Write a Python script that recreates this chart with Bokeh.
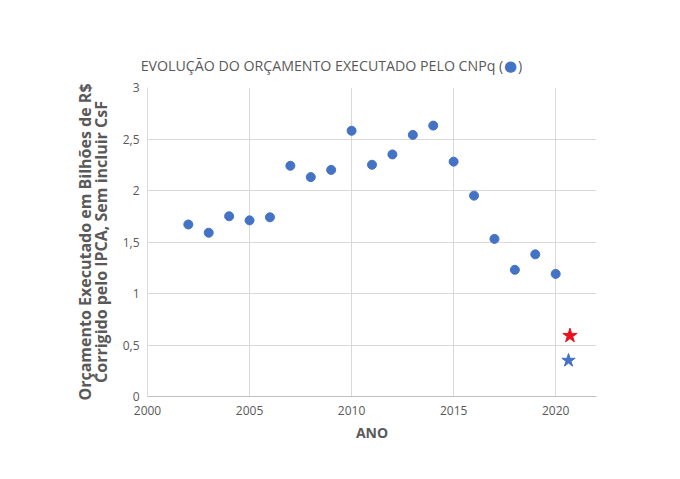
from bokeh.plotting import figure
from bokeh.models import FixedTicker, Range1d, LinearAxis
from bokeh.embed import file_html
from bokeh.resources import INLINE

# ---- data ----
years = [2002, 2003, 2004, 2005, 2006, 2007, 2008, 2009, 2010, 2011,
         2012, 2013, 2014, 2015, 2016, 2017, 2018, 2019, 2020]
values = [1.67, 1.59, 1.75, 1.71, 1.74, 2.24, 2.13, 2.20, 2.58, 2.25,
          2.35, 2.54, 2.63, 2.28, 1.95, 1.53, 1.23, 1.38, 1.19]
star_red_x = [2020.7]
star_red_y = [0.59]
star_blue_x = [2020.63]
star_blue_y = [0.35]
x_ticks = [2000, 2005, 2010, 2015, 2020]
y_ticks = [0, 0.5, 1, 1.5, 2, 2.5, 3]
y_tick_labels = ["0", "0,5", "1", "1,5", "2", "2,5", "3"]
title_text = "EVOLUÇÃO DO ORÇAMENTO EXECUTADO PELO CNPq (\u00a0\u00a0\u00a0\u00a0)"
title_pad = "\u00a0" * 22          # shifts the centred title to the left like the original
title_dot = "●"
title_dot_x = 2017.79
x_label = "ANO"
y_label_line1 = "Orçamento Executado em Bilhões de R$"
y_label_line2 = "Corrigido pelo IPCA, Sem incluir CsF"

BLUE = "#4472C4"
RED = "#E8101E"
TXT = "#595959"
GRID = "#D9D9D9"
FONT = "Open Sans"

p = figure(width=664, height=463, output_backend="svg", toolbar_location=None,
           x_range=Range1d(2000, 2022), y_range=Range1d(0, 3),
           min_border_left=147, min_border_right=68,
           min_border_top=87, min_border_bottom=67)
p.outline_line_color = None
p.background_fill_color = "white"
p.border_fill_color = "white"
p.title.text = ""
p.title.standoff = 0

xax = p.xaxis[0]
yax = p.yaxis[0]
xax.ticker = FixedTicker(ticks=x_ticks)
yax.ticker = FixedTicker(ticks=y_ticks)
yax.major_label_overrides = {t: l for t, l in zip(y_ticks, y_tick_labels)}
for ax in (xax, yax):
    ax.major_tick_line_color = None
    ax.minor_tick_line_color = None
    ax.major_tick_out = 0
    ax.major_tick_in = 0
    ax.minor_tick_out = 0
    ax.major_label_text_color = TXT
    ax.major_label_text_font = FONT
    ax.major_label_text_font_size = "12px"
    ax.axis_label_text_color = TXT
    ax.axis_label_text_font = FONT
    ax.axis_label_text_font_style = "bold"
xax.axis_line_color = "#BFBFBF"
yax.axis_line_color = GRID
xax.major_label_standoff = 9
yax.major_label_standoff = 8

xax.axis_label = x_label
xax.axis_label_text_font_size = "14px"
xax.axis_label_standoff = 5

yax.axis_label = y_label_line2
yax.axis_label_text_font_size = "16px"
yax.axis_label_standoff = 8

# outer left axis carrying the first line of the y label
yax2 = LinearAxis(ticker=FixedTicker(ticks=[]), axis_line_color=None,
                  major_tick_line_color=None, minor_tick_line_color=None,
                  major_tick_out=0, minor_tick_out=0, major_label_standoff=0,
                  axis_label=y_label_line1, axis_label_text_font=FONT,
                  axis_label_text_font_size="16px", axis_label_text_font_style="bold",
                  axis_label_text_color=TXT, axis_label_standoff=-9)
p.add_layout(yax2, "left")

# top axis: its single tick label is the blue dot, its axis label is the chart title
top = LinearAxis(ticker=FixedTicker(ticks=[title_dot_x]),
                 major_label_overrides={title_dot_x: title_dot},
                 axis_line_color=None, major_tick_line_color=None,
                 minor_tick_line_color=None, major_tick_out=0, major_tick_in=0,
                 minor_tick_out=0, major_label_standoff=13,
                 major_label_text_font="DejaVu Sans", major_label_text_font_size="15px",
                 major_label_text_color=BLUE,
                 axis_label=title_text + title_pad, axis_label_text_font=FONT,
                 axis_label_text_font_size="14.2px", axis_label_text_font_style="normal",
                 axis_label_text_color=TXT, axis_label_standoff=-21)
p.add_layout(top, "above")

p.xgrid.ticker = FixedTicker(ticks=x_ticks)
p.xgrid.grid_line_color = GRID
p.ygrid.ticker = FixedTicker(ticks=y_ticks)
p.ygrid.grid_line_color = GRID

# marks
p.scatter(years, values, size=9, marker="circle", fill_color=BLUE, line_color=BLUE)
p.scatter(star_red_x, star_red_y, size=15, marker="star", fill_color=RED, line_color=RED)
p.scatter(star_blue_x, star_blue_y, size=14, marker="star", fill_color=BLUE, line_color=BLUE)

open("out.html", "w").write(file_html(p, INLINE))
